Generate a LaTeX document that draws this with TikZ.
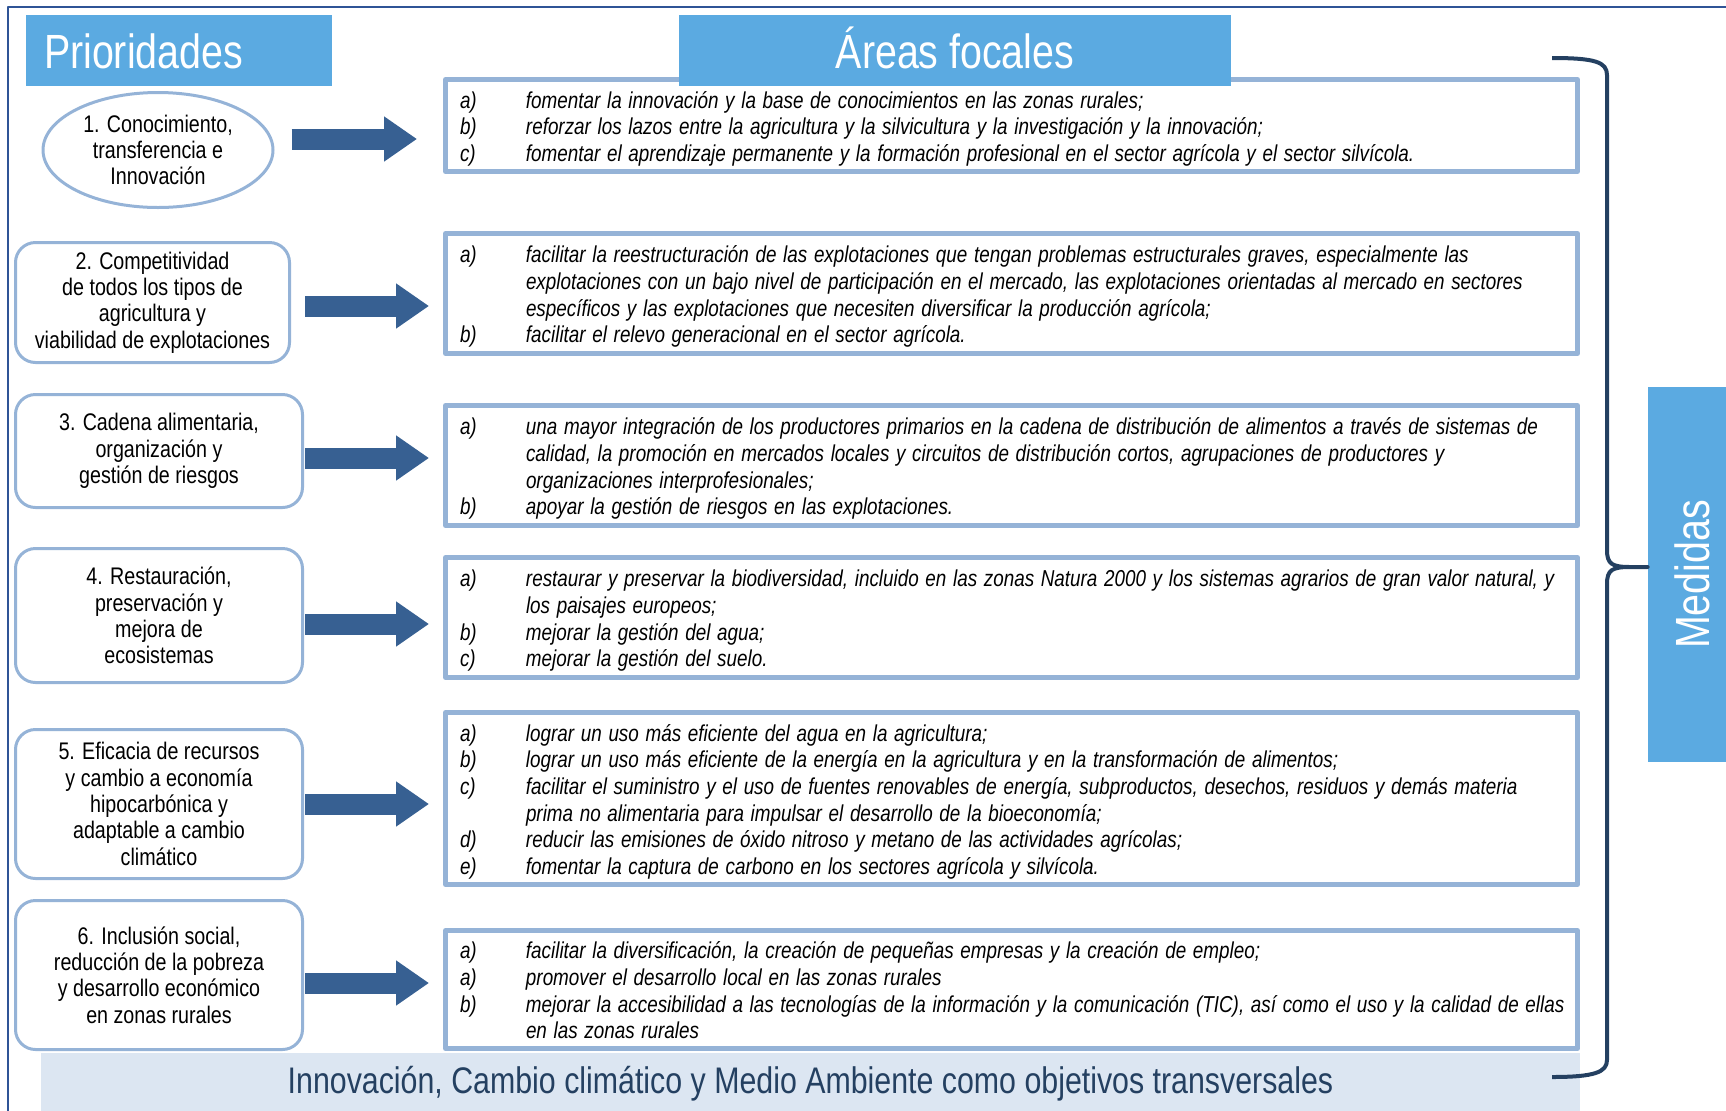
\documentclass[tikz,border=0pt]{standalone}
\usepackage{fontspec}
\setmainfont{Liberation Sans}[FakeStretch=0.82]
\usepackage{graphicx}
\usepackage{tikz}
\usetikzlibrary{arrows.meta}
\usetikzlibrary{shapes.geometric}

\definecolor{headblue}{RGB}{91,170,225}
\definecolor{boxblue}{RGB}{149,179,215}
\definecolor{arrowblue}{RGB}{55,96,146}
\definecolor{navy}{RGB}{36,64,97}
\definecolor{bandblue}{RGB}{220,230,242}
\definecolor{frameblue}{RGB}{47,84,150}

\newcommand{\areatext}[1]{\fontsize{11.5}{13.3}\selectfont\itshape
  \raisebox{-2pt}[\height][\depth]{\begin{tabular}{@{}p{33pt}@{}l@{}}#1\end{tabular}}}

\begin{document}
\begin{tikzpicture}[x=0.5pt, y=-0.5pt, line join=round,
  head/.style={fill=headblue, text=white, font=\fontsize{24}{24}\selectfont, inner sep=0},
  prio/.style={draw=boxblue, line width=1.5pt, fill=white, align=center, inner sep=0,
    font=\fontsize{12}{13.2}\selectfont},
  prbox/.style={prio, rounded corners=10pt, minimum width=143.5pt},
  area/.style={draw=boxblue, line width=2.5pt, fill=white, inner xsep=7.25pt, inner ysep=0pt,
    text width=551.5pt, align=left},
  bigarrow/.style={draw=arrowblue, line width=10.5pt, -{Triangle[length=16.5pt,width=21.5pt]}}]
  \clip (0,0) rectangle (1726,1110);
  % frame
  \draw[frameblue, line width=1pt] (1730,7) -- (8,7) -- (8,1115);
  % transversal band
  \node[fill=bandblue, minimum width=769.5pt, minimum height=31pt, inner sep=0, text=navy,
    font=\fontsize{18.5}{18.5}\selectfont] (transv) at (810.5,1084)
    {Innovación, Cambio climático y Medio Ambiente como objetivos transversales};
  % focal areas
  \node[area, minimum height=46pt] (a1) at (1011.5,125.5) {\areatext{
    a) & fomentar la innovación y la base de conocimientos en las zonas rurales;\\
    b) & reforzar los lazos entre la agricultura y la silvicultura y la investigación y la innovación;\\
    c) & fomentar el aprendizaje permanente y la formación profesional en el sector agrícola y el sector silvícola.}};
  \node[area, minimum height=60pt] (a2) at (1011.5,293.5) {\areatext{
    a) & facilitar la reestructuración de las explotaciones que tengan problemas estructurales graves, especialmente las\\
       & explotaciones con un bajo nivel de participación en el mercado, las explotaciones orientadas al mercado en sectores\\
       & específicos y las explotaciones que necesiten diversificar la producción agrícola;\\
    b) & facilitar el relevo generacional en el sector agrícola.}};
  \node[area, minimum height=60pt] (a3) at (1011.5,465.5) {\areatext{
    a) & una mayor integración de los productores primarios en la cadena de distribución de alimentos a través de sistemas de\\
       & calidad, la promoción en mercados locales y circuitos de distribución cortos, agrupaciones de productores y\\
       & organizaciones interprofesionales;\\
    b) & apoyar la gestión de riesgos en las explotaciones.}};
  \node[area, minimum height=60pt] (a4) at (1011.5,617.5) {\areatext{
    a) & restaurar y preservar la biodiversidad, incluido en las zonas Natura 2000 y los sistemas agrarios de gran valor natural, y\\
       & los paisajes europeos;\\
    b) & mejorar la gestión del agua;\\
    c) & mejorar la gestión del suelo.}};
  \node[area, minimum height=86pt] (a5) at (1011.5,798.5) {\areatext{
    a) & lograr un uso más eficiente del agua en la agricultura;\\
    b) & lograr un uso más eficiente de la energía en la agricultura y en la transformación de alimentos;\\
    c) & facilitar el suministro y el uso de fuentes renovables de energía, subproductos, desechos, residuos y demás materia\\
       & prima no alimentaria para impulsar el desarrollo de la bioeconomía;\\
    d) & reducir las emisiones de óxido nitroso y metano de las actividades agrícolas;\\
    e) & fomentar la captura de carbono en los sectores agrícola y silvícola.}};
  \node[area, minimum height=59pt] (a6) at (1011.5,989.5) {\areatext{
    a) & facilitar la diversificación, la creación de pequeñas empresas y la creación de empleo;\\
    a) & promover el desarrollo local en las zonas rurales\\
    b) & mejorar la accesibilidad a las tecnologías de la información y la comunicación (TIC), así como el uso y la calidad de ellas\\
       & en las zonas rurales}};
  % headers
  \node[head, minimum height=35.5pt, text height=17.5pt, text depth=0pt, text width=135pt,
    align=left, inner xsep=9pt] (prior) at (179,50.5) {Prioridades};
  \node[head, minimum width=276pt, minimum height=35.5pt, text height=17.5pt, text depth=0pt]
    (focal) at (955,50.5) {Áreas focales};
  \node[head, minimum width=44pt, minimum height=187.5pt] (medidas) at (1692,574.5) {\rotatebox{90}{Medidas}};
  % priorities
  \node[prio, ellipse, minimum width=115pt, minimum height=57.5pt] (p1) at (158,150)
    {1. Conocimiento,\\transferencia e\\Innovación};
  \node[prbox, minimum width=137pt, minimum height=60pt] (p2) at (152.5,302.5)
    {2. Competitividad\\de todos los tipos de\\agricultura y\\viabilidad de explotaciones};
  \node[prbox, minimum height=56.5pt] (p3) at (159,451)
    {3. Cadena alimentaria,\\organización y\\gestión de riesgos};
  \node[prbox, minimum height=67pt] (p4) at (159,615.5)
    {4. Restauración,\\preservación y\\mejora de\\ecosistemas};
  \node[prbox, minimum height=74.5pt] (p5) at (159,804)
    {5. Eficacia de recursos\\y cambio a economía\\hipocarbónica y\\adaptable a cambio\\climático};
  \node[prbox, minimum height=74.5pt] (p6) at (159,975)
    {6. Inclusión social,\\reducción de la pobreza\\y desarrollo económico\\en zonas rurales};
  % arrows
  \draw[bigarrow] ([shift={(8.5pt,5.5pt)}]p1.east) -- ([shift={(-13pt,-6.75pt)}]a1.west);
  \draw[bigarrow] ([shift={(7pt,-1.75pt)}]p2.east) -- ([shift={(-7pt,-6.25pt)}]a2.west);
  \draw[bigarrow] ([shift={(0.5pt,-3.5pt)}]p3.east) -- ([shift={(-7pt,3.75pt)}]a3.west);
  \draw[bigarrow] ([shift={(0.5pt,-4.25pt)}]p4.east) -- ([shift={(-7pt,-3.25pt)}]a4.west);
  \draw[bigarrow] ([shift={(0.5pt,0pt)}]p5.east) -- ([shift={(-7pt,-2.75pt)}]a5.west);
  \draw[bigarrow] ([shift={(0.5pt,-4pt)}]p6.east) -- ([shift={(-7pt,3.25pt)}]a6.west);
  % bracket
  \coordinate (tip) at ([yshift=3.75pt]medidas.west);
  \draw[navy, line width=2pt] (1552,58) .. controls (1595,58) and (1607,62) .. (1607,75)
    -- (1607,550) .. controls (1607,564) and (1612,567) .. (1630,567) -- (tip)
    -- (1630,567) .. controls (1612,567) and (1607,570) .. (1607,584)
    -- (1607,1060) .. controls (1607,1072) and (1595,1077) .. (1552,1077);
\end{tikzpicture}
\end{document}
